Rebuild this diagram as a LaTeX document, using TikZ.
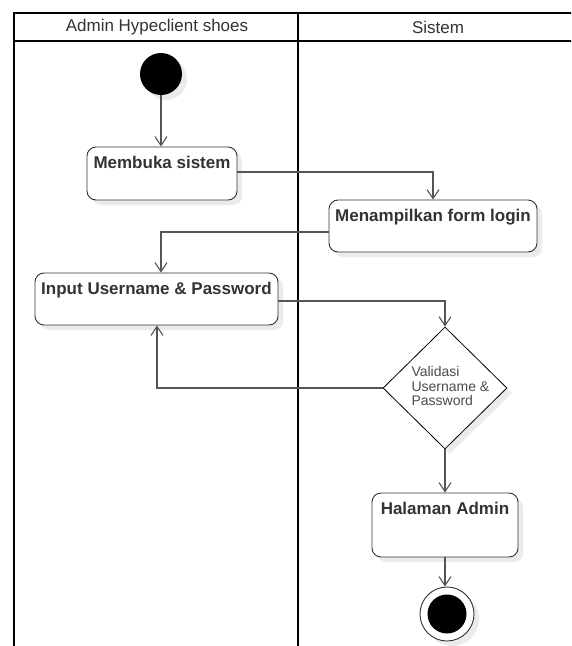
\documentclass[tikz,border=0pt]{standalone}
\usepackage{fontspec}
\setmainfont{Liberation Sans}
\usetikzlibrary{arrows.meta,shapes.geometric,shadows,calc}
\definecolor{linegray}{HTML}{555555}
\definecolor{textgray}{HTML}{333333}
\tikzset{
  lane/.style={line width=1.8pt, draw=black},
  shade/.style={drop shadow={shadow xshift=5pt, shadow yshift=-5pt, fill=black, opacity=0.08}},
  action/.style={draw=black!80, line width=0.9pt, rounded corners=9pt, fill=white, shade,
                 inner sep=0pt},
  actlabel/.style={anchor=north, yshift=-6pt, font=\fontsize{17}{19}\selectfont\bfseries, text=textgray},
  decision/.style={diamond, draw=black, line width=0.8pt, fill=white, shade, inner sep=0pt,
                   minimum width=124pt, minimum height=122pt, aspect=1},
  startnode/.style={circle, fill=black, minimum size=42pt, inner sep=0pt, shade},
  flow/.style={draw=linegray, line width=1.2pt, -{Straight Barb[length=9pt,width=12pt,line width=1.1pt]}},
  head/.style={font=\fontsize{17}{19}\selectfont, text=textgray}
}
\begin{document}
\begin{tikzpicture}[x=1pt,y=-1pt]
\useasboundingbox (0,0) rectangle (571,646);
\clip (0,0) rectangle (571,646);
\fill[white] (0,0) rectangle (571,646);

% swimlanes
\draw[lane] (14,660) -- (14,13) -- (590,13);
\draw[lane] (14,41) -- (590,41);
\draw[lane] (298,13) -- (298,660);
\node[head] (laneA) at (157,27.5) {Admin Hypeclient shoes};
\node[head] (laneB) at (438,27.5) {Sistem};

% activity nodes
\node[startnode] (start) at (161,74) {};
\node[action, minimum width=150pt, minimum height=53pt] (buka) at (162,173.5) {};
\node[actlabel] (bukaT) at (buka.north) {Membuka sistem};
\node[action, minimum width=208pt, minimum height=52pt] (form) at (433,226) {};
\node[actlabel] (formT) at (form.north) {Menampilkan form login};
\node[action, minimum width=243pt, minimum height=52pt] (input) at (156.5,299) {};
\node[actlabel] (inputT) at (input.north) {Input Username \& Password};
\node[decision] (valid) at (445,388) {};
\node[align=left, anchor=west, font=\fontsize{14}{14.5}\selectfont, text=black!70] (validT) at (408,386)
  {Validasi\\Username \&\\Password};
\node[action, minimum width=146pt, minimum height=64pt] (admin) at (445,525) {};
\node[actlabel] (adminT) at (admin.north) {Halaman Admin};
\node[circle, draw=black!80, line width=0.9pt, fill=white, minimum size=54pt, inner sep=0pt, shade] (stop) at (447,614) {};
\node[circle, fill=black, minimum size=39pt, inner sep=0pt] (stopIn) at (stop.center) {};

% control flow
\draw[flow] (start.south) -- (buka.north -| start.south);
\draw[flow] ([yshift=1.5pt]buka.east) -| (form.north);
\draw[flow] ([yshift=-6pt]form.west) -| (input.north -| start.south);
\draw[flow] ([yshift=-2pt]input.east) -| (valid.north);
\draw[flow] (valid.west) -| ([xshift=0.5pt]input.south);
\draw[flow] (valid.south) -- (admin.north);
\draw[flow] (admin.south) -- (stop.north -| admin.south);
\end{tikzpicture}
\end{document}
